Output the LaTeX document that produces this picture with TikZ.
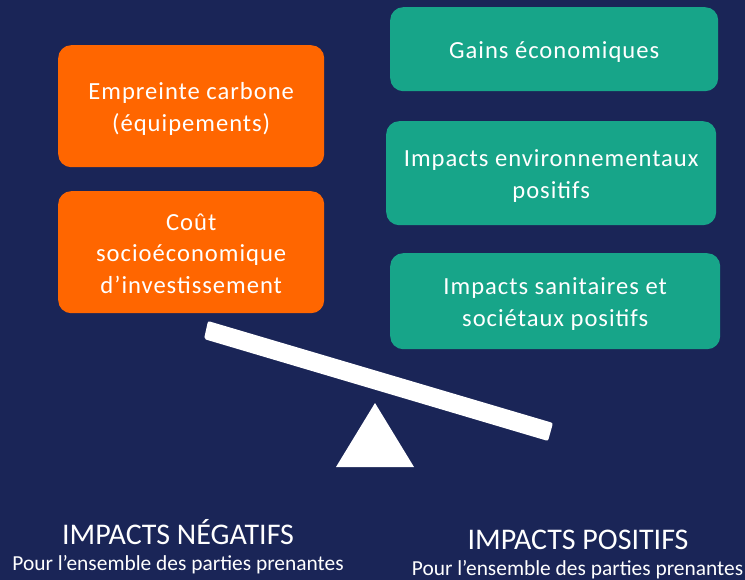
\documentclass[tikz,border=0pt]{standalone}
\usepackage{fontspec}
\setmainfont{Carlito}
\definecolor{bgc}{HTML}{1A2557}
\definecolor{org}{HTML}{FF6600}
\definecolor{grn}{HTML}{17A589}
\newcommand{\topline}{\rule{0pt}{25pt}}
\newcommand{\botline}{\rule[-6pt]{0pt}{6pt}}
\begin{document}
\begin{tikzpicture}[x=1pt,y=-1pt,
  box/.style={rounded corners=13pt,inner sep=0pt,text=white,align=center,font=\fontsize{24.6}{31.5}\selectfont\addfontfeature{LetterSpace=4},anchor=north west,minimum width=#1},
  cap1/.style={text=white,font=\fontsize{30}{24}\selectfont,inner sep=0pt},
  cap2/.style={text=white,font=\fontsize{21.4}{18}\selectfont,inner sep=0pt}]
\fill[bgc] (0,0) rectangle (745,580);
\useasboundingbox (0,0) rectangle (745,580);
\node[box=266pt,fill=org,minimum height=122pt] (a) at (58,45) {\addfontfeature{LetterSpace=4}\topline Empreinte carbone\\\addfontfeature{LetterSpace=4}(équipements)\botline};
\node[box=266pt,fill=org,minimum height=122pt] (b) at (58,191) {\addfontfeature{LetterSpace=4}\topline Coût\\\addfontfeature{LetterSpace=4}socioéconomique\\\addfontfeature{LetterSpace=4}d’investissement\botline};
\node[box=328pt,fill=grn,minimum height=84pt] (c) at (390,7) {\addfontfeature{LetterSpace=4}\topline Gains économiques\botline};
\node[box=330pt,fill=grn,minimum height=104pt] (d) at (386,121) {\addfontfeature{LetterSpace=4}\topline Impacts environnementaux\\\addfontfeature{LetterSpace=4}positifs\botline};
\node[box=330pt,fill=grn,minimum height=96pt] (e) at (390,253) {\addfontfeature{LetterSpace=4}\topline Impacts sanitaires et\\\addfontfeature{LetterSpace=4}sociétaux positifs\botline};
\fill[white,rounded corners=2pt] (208,321) -- (553,423) -- (548,441) -- (204,339) -- cycle;
\fill[white] (375,403) -- (414,467) -- (336,467) -- cycle;
\node[cap1] (n1) at (178,532) {IMPACTS NÉGATIFS};
\node[cap2] (n2) at (178,564.5) {Pour l’ensemble des parties prenantes};
\node[cap1] (p1) at (578,540) {IMPACTS POSITIFS};
\node[cap2] (p2) at (577.5,570) {Pour l’ensemble des parties prenantes};
\end{tikzpicture}
\end{document}
